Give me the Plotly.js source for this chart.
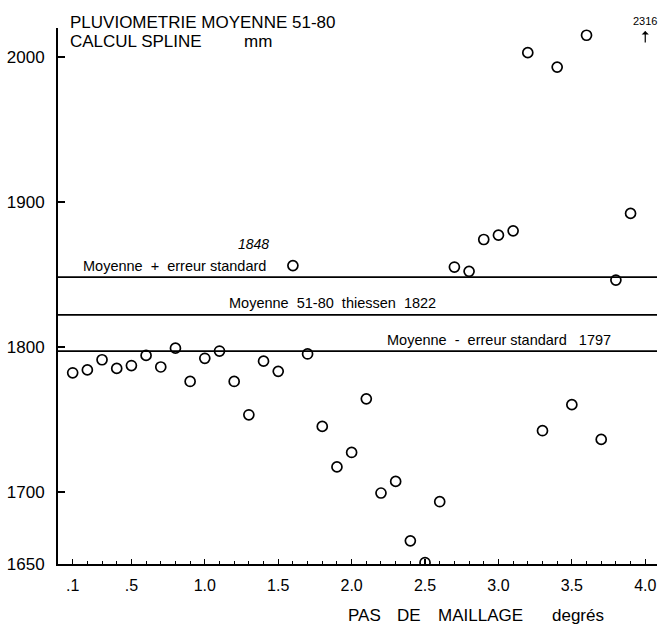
<!DOCTYPE html>
<html>
<head>
<meta charset="utf-8">
<script src="https://cdn.plot.ly/plotly-3.0.1.min.js"></script>
<style>html,body{margin:0;padding:0;background:#fff;}#chart{width:658px;height:624px;}</style>
</head>
<body>
<div id="chart"></div>
<script>
// Grid step (degrees)
const pasMaillage = [0.1,0.2,0.3,0.4,0.5,0.6,0.7,0.8,0.9,1.0,
                     1.1,1.2,1.3,1.4,1.5,1.6,1.7,1.8,1.9,2.0,
                     2.1,2.2,2.3,2.4,2.5,2.6,2.7,2.8,2.9,3.0,
                     3.1,3.2,3.3,3.4,3.5,3.6,3.7,3.8,3.9,4.0];
// Mean rainfall 51-80, spline computation (mm)
const pluviometrie = [1782,1784,1791,1785,1787,1794,1786,1799,1776,1792,
                      1797,1776,1753,1790,1783,1856,1795,1745,1717,1727,
                      1764,1699,1707,1666,1651,1693,1855,1852,1874,1877,
                      1880,2003,1742,1993,1760,2015,1736,1846,1892,2316];
// Reference lines
const moyennePlus = 1848;
const moyenneThiessen = 1822;
const moyenneMoins = 1797;
// Tick labels
const xTickVals = [0.1,0.5,1.0,1.5,2.0,2.5,3.0,3.5,4.0];
const xTickText = ['.1','.5','1.0','1.5','2.0','2.5','3.0','3.5','4.0'];
const yTickVals = [1650,1700,1800,1900,2000];
const yTickText = ['1650','1700','1800','1900','2000'];

const X_MAX = 4.08;
const font = 'Liberation Sans, Arial, Helvetica, sans-serif';

function refLine(v){
  return {type:'scatter', mode:'lines', x:[0, X_MAX], y:[v, v],
          line:{color:'#000', width:1.7}, hoverinfo:'skip', showlegend:false, cliponaxis:false};
}

const traces = [
  refLine(moyennePlus), refLine(moyenneThiessen), refLine(moyenneMoins),
  {type:'scatter', mode:'markers', x:pasMaillage, y:pluviometrie,
   marker:{symbol:'circle-open', size:10, color:'#000', line:{width:1.7, color:'#000'}},
   showlegend:false, cliponaxis:true}
];

const ann = [
  {x:0.07, xref:'x', y:1, yref:'paper', yshift:6, xanchor:'left', yanchor:'middle', showarrow:false,
   text:'PLUVIOMETRIE MOYENNE 51-80', font:{family:font, size:17, color:'#000'}},
  {x:0.07, xref:'x', y:1, yref:'paper', yshift:-13, xanchor:'left', yanchor:'middle', showarrow:false,
   text:'CALCUL SPLINE', font:{family:font, size:17, color:'#000'}},
  {x:1.25, xref:'x', y:1, yref:'paper', yshift:-13, xanchor:'left', yanchor:'middle', showarrow:false,
   text:'mm', font:{family:font, size:17, color:'#000'}},
  {x:1.33, y:moyennePlus, yshift:33, xanchor:'center', yanchor:'middle', showarrow:false,
   text:'<i>1848</i>', font:{family:font, size:14, color:'#000'}},
  {x:0.16, y:moyennePlus, yshift:11, xanchor:'left', yanchor:'middle', showarrow:false,
   text:'Moyenne&nbsp;&nbsp;+&nbsp;&nbsp;erreur standard', font:{family:font, size:14.5, color:'#000'}},
  {x:1.15, y:moyenneThiessen, yshift:12, xanchor:'left', yanchor:'middle', showarrow:false,
   text:'Moyenne&nbsp;&nbsp;51-80&nbsp;&nbsp;thiessen&nbsp;&nbsp;1822', font:{family:font, size:14.5, color:'#000'}},
  {x:2.23, y:moyenneMoins, yshift:11, xanchor:'left', yanchor:'middle', showarrow:false,
   text:'Moyenne&nbsp;&nbsp;-&nbsp;&nbsp;erreur standard&nbsp;&nbsp;&nbsp;1797', font:{family:font, size:14.5, color:'#000'}},
  {x:pasMaillage[39], y:1, yref:'paper', yshift:7, xanchor:'center', yanchor:'middle', showarrow:false,
   text:String(pluviometrie[39]), font:{family:font, size:11, color:'#000'}},
  {x:pasMaillage[39], y:2018, ax:pasMaillage[39], ay:2009, axref:'x', ayref:'y', text:'', showarrow:true,
   arrowhead:1, arrowsize:1, arrowwidth:1.2, arrowcolor:'#000'},
  {x:2.09, y:0, yref:'paper', yshift:-51, xanchor:'center', yanchor:'middle', showarrow:false,
   text:'PAS', font:{family:font, size:17, color:'#000'}},
  {x:2.39, y:0, yref:'paper', yshift:-51, xanchor:'center', yanchor:'middle', showarrow:false,
   text:'DE', font:{family:font, size:17, color:'#000'}},
  {x:2.88, y:0, yref:'paper', yshift:-51, xanchor:'center', yanchor:'middle', showarrow:false,
   text:'MAILLAGE', font:{family:font, size:17, color:'#000'}},
  {x:3.54, y:0, yref:'paper', yshift:-51, xanchor:'center', yanchor:'middle', showarrow:false,
   text:'degrés', font:{family:font, size:17, color:'#000'}}
];

const layout = {
  width:658, height:624,
  margin:{l:58, r:1, t:28, b:60, pad:0},
  paper_bgcolor:'#fff', plot_bgcolor:'#fff',
  font:{family:font, size:16, color:'#000'},
  showlegend:false,
  xaxis:{range:[0, X_MAX], showgrid:false, zeroline:false, showline:true, linecolor:'#000', linewidth:2,
         tickvals:xTickVals, ticktext:xTickText, ticks:'inside', ticklen:5, tickwidth:1.2, tickcolor:'#000',
         minor:{dtick:0.1, tick0:0, ticks:'inside', ticklen:3, tickcolor:'#000', tickwidth:1},
         ticklabelstandoff:6, tickfont:{family:font, size:16, color:'#000'}},
  yaxis:{range:[1650, 2020], showgrid:false, zeroline:false, showline:true, linecolor:'#000', linewidth:2,
         tickvals:yTickVals, ticktext:yTickText, ticks:'inside', ticklen:7, tickwidth:2, tickcolor:'#000',
         ticklabelstandoff:8, tickfont:{family:font, size:17, color:'#000'}},
  annotations:ann
};

Plotly.newPlot('chart', traces, layout, {displayModeBar:false, staticPlot:true});
</script>
</body>
</html>
